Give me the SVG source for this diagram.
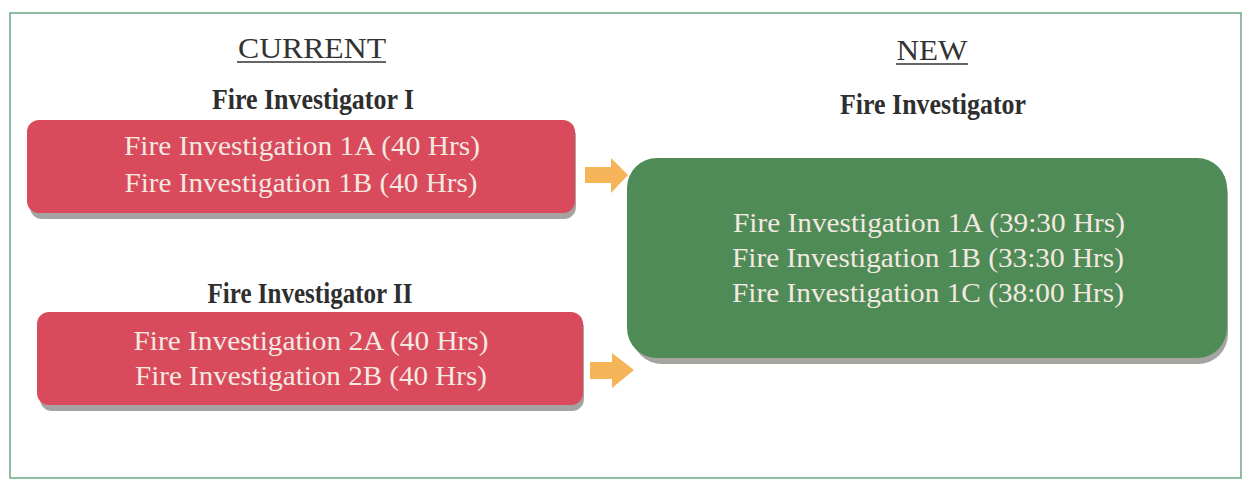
<svg xmlns="http://www.w3.org/2000/svg" width="1248" height="481" viewBox="0 0 1248 481">
<style>
.hdr{font-family:"Liberation Serif",serif;font-size:29px;fill:#333;text-anchor:middle;}
.ttl{font-family:"Liberation Serif",serif;font-size:29px;font-weight:bold;fill:#2e2e2e;text-anchor:middle;}
.bt{font-family:"Liberation Serif",serif;font-size:27px;fill:#f3e9e1;text-anchor:middle;}
.red{fill:#d84a5c;}
.grn{fill:#4f8b56;}
.shd{fill:#a6a4a0;}
.arr{fill:#f5b457;}
</style>
<rect x="0" y="0" width="1248" height="481" fill="#ffffff"/>
<rect x="10" y="13" width="1231" height="465" fill="none" stroke="#6aa882" stroke-width="1.5"/>
<g id="header-current">
<text class="hdr" x="312" y="58" textLength="148" lengthAdjust="spacingAndGlyphs">CURRENT</text>
<line x1="237" y1="62" x2="386" y2="62" stroke="#333" stroke-width="1.5"/>
</g>
<g id="header-new">
<text class="hdr" x="932" y="60" textLength="71" lengthAdjust="spacingAndGlyphs">NEW</text>
<line x1="896" y1="64" x2="968" y2="64" stroke="#333" stroke-width="1.5"/>
</g>
<g id="fi1">
<text class="ttl" x="313" y="109" textLength="202" lengthAdjust="spacingAndGlyphs">Fire Investigator I</text>
<rect class="shd" x="30" y="124" width="546" height="95" rx="12"/>
<rect class="red" x="27" y="120" width="548" height="93" rx="12"/>
<text class="bt" x="302" y="155" textLength="356" lengthAdjust="spacingAndGlyphs">Fire Investigation 1A (40 Hrs)</text>
<text class="bt" x="301" y="192" textLength="353" lengthAdjust="spacingAndGlyphs">Fire Investigation 1B (40 Hrs)</text>
</g>
<g id="fi2">
<text class="ttl" x="310" y="303" textLength="205" lengthAdjust="spacingAndGlyphs">Fire Investigator II</text>
<rect class="shd" x="40" y="316" width="544" height="95" rx="12"/>
<rect class="red" x="37" y="312" width="546" height="93" rx="12"/>
<text class="bt" x="311" y="350" textLength="355" lengthAdjust="spacingAndGlyphs">Fire Investigation 2A (40 Hrs)</text>
<text class="bt" x="311" y="385" textLength="352" lengthAdjust="spacingAndGlyphs">Fire Investigation 2B (40 Hrs)</text>
</g>
<g id="fi-new">
<text class="ttl" x="933" y="114" textLength="186" lengthAdjust="spacingAndGlyphs">Fire Investigator</text>
<rect class="shd" x="632" y="164" width="596" height="200" rx="30"/>
<rect class="grn" x="627" y="158" width="600" height="200" rx="30"/>
<text class="bt" x="929" y="232" textLength="392" lengthAdjust="spacingAndGlyphs">Fire Investigation 1A (39:30 Hrs)</text>
<text class="bt" x="928" y="267" textLength="392" lengthAdjust="spacingAndGlyphs">Fire Investigation 1B (33:30 Hrs)</text>
<text class="bt" x="928" y="302" textLength="392" lengthAdjust="spacingAndGlyphs">Fire Investigation 1C (38:00 Hrs)</text>
</g>
<g id="connectors">
<polygon class="arr" points="585,167 611,167 611,158 628,175 611,193 611,183 585,183"/>
<polygon class="arr" points="590,362 612,362 612,353 634,370 612,388 612,379 590,379"/>
</g>
</svg>
